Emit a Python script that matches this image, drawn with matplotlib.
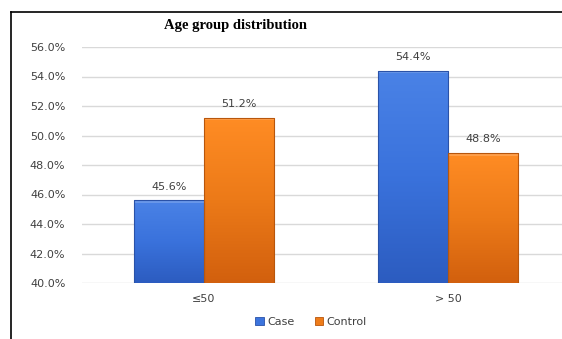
import matplotlib
matplotlib.use("Agg")
import matplotlib.pyplot as plt
import numpy as np
from matplotlib.colors import LinearSegmentedColormap
from matplotlib.lines import Line2D
from matplotlib.patches import Rectangle

categories = ["≤50", "> 50"]
case_values = [45.6, 54.4]
control_values = [51.2, 48.8]
series_names = ["Case", "Control"]
y_ticks = [40, 42, 44, 46, 48, 50, 52, 54, 56]

W, H = 562, 339
fig = plt.figure(figsize=(W / 100, H / 100), dpi=100)
fig.patch.set_facecolor("white")

ax = fig.add_axes([82 / W, 56 / H, 488 / W, 236 / H])
ax.set_xlim(-0.5, 1.5)
ax.set_ylim(40, 56)

for s in ax.spines.values():
    s.set_visible(False)
ax.set_yticks(y_ticks)
ax.set_yticklabels([f"{v:.1f}%" for v in y_ticks], fontsize=8, color="#404040")
ax.tick_params(axis="y", length=0, pad=12)
ax.tick_params(axis="x", length=0, pad=8, labelsize=8, labelcolor="#404040")
ax.set_xticks(range(len(categories)))
ax.set_xticklabels(categories)
ax.grid(axis="y", color="#d9d9d9", linewidth=1)
ax.set_axisbelow(True)

blue_cmap = LinearSegmentedColormap.from_list("b", ["#2c5cc0", "#3a72dc", "#4a82e6"])
orange_cmap = LinearSegmentedColormap.from_list("o", ["#d2600e", "#ec7a18", "#ff8c24"])
edge = {"Case": "#2a52a8", "Control": "#b8560c"}
cmaps = {"Case": blue_cmap, "Control": orange_cmap}

bw = 0.287
x = np.arange(len(categories))
grad = np.linspace(0, 1, 100).reshape(-1, 1)
for name, vals, off in [("Case", case_values, -bw / 2), ("Control", control_values, bw / 2)]:
    bars = ax.bar(x + off, vals, width=bw, bottom=0, color="none",
                  edgecolor=edge[name], linewidth=0.8, zorder=3)
    for b, v in zip(bars, vals):
        x0 = b.get_x()
        im = ax.imshow(grad, cmap=cmaps[name], aspect="auto", origin="lower",
                       extent=(x0, x0 + bw, 40, v), zorder=2)
        im.set_clip_path(b)
        # slight highlight along the top edge
        ax.add_patch(Rectangle((x0, v - 0.18), bw, 0.18, facecolor="white",
                               alpha=0.18, edgecolor="none", zorder=2.5))
        ax.text(x0 + bw / 2, v + 0.6, f"{v:.1f}%", ha="center", va="bottom",
                fontsize=8, color="#404040")

ax.set_xlim(-0.5, 1.5)
ax.set_ylim(40, 56)

fig.text(235 / W, 1 - 25 / H, "Age group distribution", ha="center", va="center",
         fontsize=10.5, fontweight="bold", family="Liberation Serif", color="#000000")

# outer frame (top and left)
fig.add_artist(Line2D([11 / W, 1], [1 - 12 / H, 1 - 12 / H], color="black", lw=1.2,
                      transform=fig.transFigure))
fig.add_artist(Line2D([11 / W, 11 / W], [0, 1 - 12 / H], color="black", lw=1.2,
                      transform=fig.transFigure))

# legend
def sw(name):
    return Rectangle((0, 0), 1, 1, facecolor=cmaps[name](0.55), edgecolor=edge[name], lw=0.6)

fig.legend([sw(n) for n in series_names], series_names, loc="center",
           bbox_to_anchor=(311 / W, 1 - 322 / H), ncol=2, frameon=False,
           fontsize=8, handlelength=0.8, handleheight=0.8, handletextpad=0.3,
           columnspacing=1.8, labelcolor="#404040")

fig.savefig("out.png", dpi=100, facecolor="white")
